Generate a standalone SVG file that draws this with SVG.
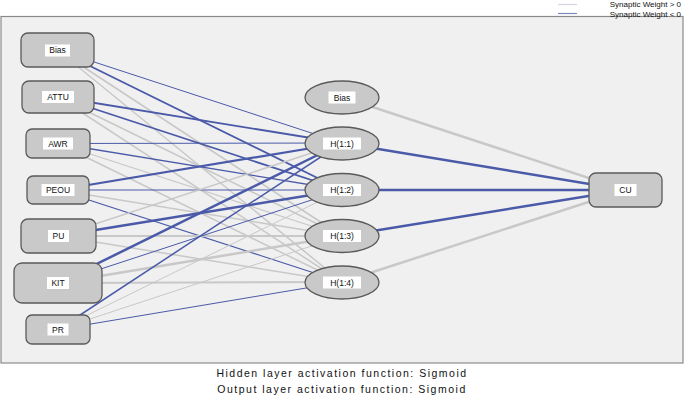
<svg xmlns="http://www.w3.org/2000/svg" width="685" height="395" viewBox="0 0 685 395">
<style>
text{font-family:"Liberation Sans",Arial,sans-serif;fill:#111}
.box{fill:#c9c9c9;stroke:#5a5a5a;stroke-width:1.3}
.lbl{font-size:8.5px;text-anchor:middle}
.lbg{fill:#fff}
.neg{stroke:#4a5aa8;fill:none}
.pos{stroke:#c8c8c8;fill:none}
.cap{font-size:10.5px;text-anchor:middle;letter-spacing:1.5px}
.leg{font-size:8px;text-anchor:end}
</style>
<rect x="0" y="0" width="685" height="395" fill="#fff"/>
<rect x="1" y="16.5" width="682" height="346.5" fill="#f0f0f0" stroke="#8a8a8a" stroke-width="1.2"/>
<g id="legend">
<line x1="558" y1="4.5" x2="577" y2="4.5" stroke="#d8d4e4" stroke-width="1.2"/>
<text class="leg" x="681" y="7.4">Synaptic Weight &gt; 0</text>
<line x1="558" y1="13.5" x2="577" y2="13.5" stroke="#7d88b8" stroke-width="1.2"/>
<text class="leg" x="681" y="16.5">Synaptic Weight &lt; 0</text>
</g>
<g id="connectors">
<line class="neg" x1="57.5" y1="50" x2="342" y2="143" stroke-width="1"/>
<line class="neg" x1="57.5" y1="50" x2="342" y2="190" stroke-width="1.8"/>
<line class="pos" x1="57.5" y1="50" x2="342" y2="236" stroke-width="1.8"/>
<line class="pos" x1="57.5" y1="50" x2="342" y2="282" stroke-width="1.5"/>
<line class="neg" x1="58" y1="97" x2="342" y2="143" stroke-width="1.8"/>
<line class="neg" x1="58" y1="97" x2="342" y2="190" stroke-width="1.8"/>
<line class="pos" x1="58" y1="97" x2="342" y2="236" stroke-width="1.5"/>
<line class="pos" x1="58" y1="97" x2="342" y2="282" stroke-width="1.5"/>
<line class="neg" x1="58" y1="143.5" x2="342" y2="143" stroke-width="1"/>
<line class="neg" x1="58" y1="143.5" x2="342" y2="190" stroke-width="1.3"/>
<line class="pos" x1="58" y1="143.5" x2="342" y2="236" stroke-width="1.2"/>
<line class="pos" x1="58" y1="143.5" x2="342" y2="282" stroke-width="1.5"/>
<line class="neg" x1="58" y1="190" x2="342" y2="143" stroke-width="2.2"/>
<line class="neg" x1="58" y1="190" x2="342" y2="190" stroke-width="1"/>
<line class="pos" x1="58" y1="190" x2="342" y2="236" stroke-width="1.5"/>
<line class="neg" x1="58" y1="190" x2="342" y2="282" stroke-width="1.2"/>
<line class="pos" x1="58.5" y1="236" x2="342" y2="143" stroke-width="1.5"/>
<line class="neg" x1="58.5" y1="236" x2="342" y2="190" stroke-width="2.5"/>
<line class="pos" x1="58.5" y1="236" x2="342" y2="236" stroke-width="1.8"/>
<line class="pos" x1="58.5" y1="236" x2="342" y2="282" stroke-width="1.5"/>
<line class="neg" x1="58" y1="283" x2="342" y2="143" stroke-width="2.5"/>
<line class="neg" x1="58" y1="283" x2="342" y2="190" stroke-width="1"/>
<line class="pos" x1="58" y1="283" x2="342" y2="236" stroke-width="2.5"/>
<line class="pos" x1="58" y1="283" x2="342" y2="282" stroke-width="2"/>
<line class="neg" x1="58" y1="329.5" x2="342" y2="143" stroke-width="1.5"/>
<line class="pos" x1="58" y1="329.5" x2="342" y2="190" stroke-width="1"/>
<line class="pos" x1="58" y1="329.5" x2="342" y2="236" stroke-width="1"/>
<line class="neg" x1="58" y1="329.5" x2="342" y2="282" stroke-width="1"/>
<line class="pos" x1="342" y1="97" x2="625.5" y2="190" stroke-width="2.5"/>
<line class="neg" x1="342" y1="143" x2="625.5" y2="190" stroke-width="2.5"/>
<line class="neg" x1="342" y1="190" x2="625.5" y2="190" stroke-width="2.5"/>
<line class="neg" x1="342" y1="236" x2="625.5" y2="190" stroke-width="2.5"/>
<line class="pos" x1="342" y1="282" x2="625.5" y2="190" stroke-width="2.5"/>
</g>
<g id="in-bias"><rect class="box" x="21" y="33" width="73" height="34" rx="7"/><rect class="lbg" x="45" y="44.5" width="25" height="12"/><text class="lbl" x="57.5" y="53">Bias</text></g>
<g id="in-attu"><rect class="box" x="22" y="81" width="72" height="32" rx="7"/><rect class="lbg" x="42" y="91" width="32" height="12"/><text class="lbl" x="58" y="100">ATTU</text></g>
<g id="in-awr"><rect class="box" x="26" y="129" width="64" height="29" rx="6"/><rect class="lbg" x="43" y="137.5" width="30" height="12"/><text class="lbl" x="58" y="146.5">AWR</text></g>
<g id="in-peou"><rect class="box" x="27" y="176" width="62" height="28" rx="6"/><rect class="lbg" x="41.5" y="184" width="33" height="12"/><text class="lbl" x="58" y="193">PEOU</text></g>
<g id="in-pu"><rect class="box" x="21" y="219" width="75" height="34" rx="7"/><rect class="lbg" x="48" y="230" width="21" height="12"/><text class="lbl" x="58.5" y="239">PU</text></g>
<g id="in-kit"><rect class="box" x="14" y="263" width="88" height="40" rx="8"/><rect class="lbg" x="47" y="277" width="22" height="12"/><text class="lbl" x="58" y="286">KIT</text></g>
<g id="in-pr"><rect class="box" x="26" y="315" width="64" height="29" rx="6"/><rect class="lbg" x="47.5" y="323.5" width="21" height="12"/><text class="lbl" x="58" y="332.5">PR</text></g>
<g id="h-bias"><ellipse class="box" cx="342" cy="97.5" rx="37" ry="16.5"/><rect class="lbg" x="328.5" y="91.5" width="27" height="12"/><text class="lbl" x="342" y="100.5">Bias</text></g>
<g id="h-1"><ellipse class="box" cx="342" cy="143.5" rx="37" ry="16.5"/><rect class="lbg" x="323" y="137.5" width="38" height="12"/><text class="lbl" x="342" y="146.5">H(1:1)</text></g>
<g id="h-2"><ellipse class="box" cx="342" cy="190" rx="37" ry="16.5"/><rect class="lbg" x="323" y="184" width="38" height="12"/><text class="lbl" x="342" y="193">H(1:2)</text></g>
<g id="h-3"><ellipse class="box" cx="342" cy="236" rx="37" ry="16.5"/><rect class="lbg" x="323" y="230" width="38" height="12"/><text class="lbl" x="342" y="239">H(1:3)</text></g>
<g id="h-4"><ellipse class="box" cx="342" cy="282.5" rx="37" ry="16.5"/><rect class="lbg" x="323" y="276.5" width="38" height="12"/><text class="lbl" x="342" y="285.5">H(1:4)</text></g>
<g id="out-cu"><rect class="box" x="589" y="173" width="73" height="34" rx="7"/><rect class="lbg" x="614.5" y="184" width="22" height="12"/><text class="lbl" x="625.5" y="193">CU</text></g>
<text class="cap" x="342" y="377">Hidden layer activation function: Sigmoid</text>
<text class="cap" x="342" y="393">Output layer activation function: Sigmoid</text>
</svg>
